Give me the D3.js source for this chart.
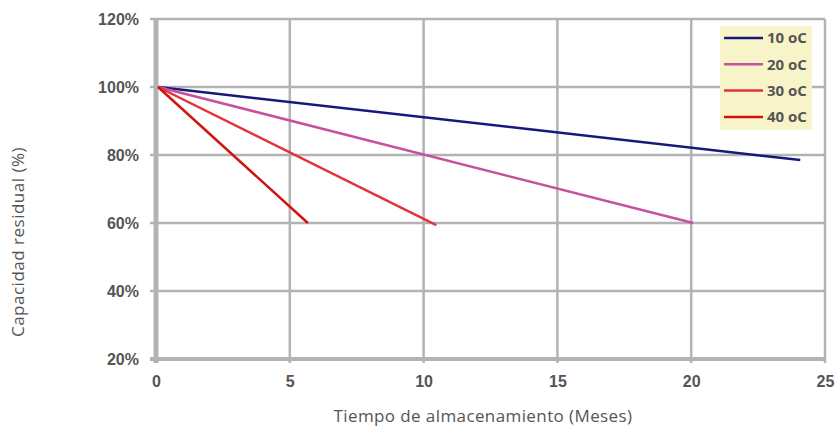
<!DOCTYPE html>
<html>
<head>
<meta charset="utf-8">
<script src="https://cdn.jsdelivr.net/npm/d3@7"></script>
<style>
  body { margin: 0; background: #fff; }
  svg { display: block; font-family: "Open Sans", sans-serif; }
  .tick text { font-weight: 700; fill: #555; font-size: 16px; }
  .axis-title { fill: #555; font-size: 17px; letter-spacing: 0.4px; }
  .legend-label { font-weight: 700; fill: #555; font-size: 15px; }
</style>
</head>
<body>
<div id="chart"></div>
<script>
// Data
const xTicks = [0, 5, 10, 15, 20, 25];
const yTicks = [20, 40, 60, 80, 100, 120];
const seriesNames = ["10 oC", "20 oC", "30 oC", "40 oC"];
const seriesColors = ["#17197a", "#c9509e", "#e2353b", "#d0150f"];
const line10 = [[0, 100], [24, 78.5]];
const line20 = [[0, 100], [20, 60]];
const line30 = [[0, 100], [10.4, 59.4]];
const line40 = [[0, 100], [5.6, 60]];
const seriesValues = [line10, line20, line30, line40];

// Set up dimensions
let width = 837;
let height = 427;
let margin = { top: 19, right: 12, bottom: 68, left: 156 };

let xScale = d3
  .scaleLinear()
  .domain([0, 25])
  .range([margin.left, width - margin.right]);

let yScale = d3
  .scaleLinear()
  .domain([20, 120])
  .range([height - margin.bottom, margin.top]);

let gridColor = "#b3b3b3";

const svg = d3
  .select("#chart")
  .append("svg")
  .attr("width", width)
  .attr("height", height);

// Draw grid
svg
  .append("g")
  .selectAll("line")
  .data(xTicks.slice(1))
  .join("line")
  .attr("x1", (d) => xScale(d))
  .attr("x2", (d) => xScale(d))
  .attr("y1", yScale(120))
  .attr("y2", yScale(20) + 4)
  .attr("stroke", gridColor)
  .attr("stroke-width", 2.5);

svg
  .append("g")
  .selectAll("line")
  .data(yTicks.slice(1))
  .join("line")
  .attr("x1", xScale(0) - 6)
  .attr("x2", xScale(25))
  .attr("y1", (d) => yScale(d))
  .attr("y2", (d) => yScale(d))
  .attr("stroke", gridColor)
  .attr("stroke-width", 2.5);

// Draw bottom axis line
svg
  .append("line")
  .attr("x1", xScale(0) - 6)
  .attr("x2", xScale(25) + 1)
  .attr("y1", yScale(20))
  .attr("y2", yScale(20))
  .attr("stroke", gridColor)
  .attr("stroke-width", 4);

// Draw left axis bar
svg
  .append("line")
  .attr("x1", xScale(0))
  .attr("x2", xScale(0))
  .attr("y1", yScale(120) - 1)
  .attr("y2", yScale(20) + 4)
  .attr("stroke", gridColor)
  .attr("stroke-width", 5);

// Draw x axis labels
const xAxisG = svg
  .append("g")
  .attr("transform", `translate(0,${yScale(20)})`)
  .call(d3.axisBottom(xScale).tickValues(xTicks).tickSize(0).tickPadding(17));
xAxisG.select(".domain").remove();
xAxisG.selectAll("text").style("font-family", "inherit");

// Draw y axis labels
const yAxisG = svg
  .append("g")
  .attr("transform", `translate(${xScale(0)},0)`)
  .call(
    d3
      .axisLeft(yScale)
      .tickValues(yTicks)
      .tickSize(0)
      .tickPadding(17)
      .tickFormat((d) => `${d}%`)
  );
yAxisG.select(".domain").remove();
yAxisG.selectAll("text").style("font-family", "inherit");

// Axis titles
svg
  .append("text")
  .attr("class", "axis-title")
  .attr("x", 483)
  .attr("y", 422)
  .attr("text-anchor", "middle")
  .text("Tiempo de almacenamiento (Meses)");

svg
  .append("text")
  .attr("class", "axis-title")
  .attr("transform", "translate(24,242) rotate(-90)")
  .attr("text-anchor", "middle")
  .style("letter-spacing", "0.5px")
  .text("Capacidad residual (%)");

// Draw lines
let line = d3
  .line()
  .x((d) => xScale(d[0]) + 2)
  .y((d) => yScale(d[1]));

svg
  .append("g")
  .selectAll("path")
  .data(seriesValues)
  .join("path")
  .attr("fill", "none")
  .attr("stroke", (d, i) => seriesColors[i])
  .attr("stroke-width", 2.5)
  .attr("d", (d) => line(d));

// Draw legend
const legend = svg.append("g").attr("transform", "translate(720,26)");
legend
  .append("rect")
  .attr("width", 92)
  .attr("height", 104)
  .attr("fill", "#f8f4c9");

const legendItem = legend
  .selectAll("g")
  .data(seriesNames)
  .join("g")
  .attr("transform", (d, i) => `translate(0,${12 + i * 26.3})`);

legendItem
  .append("line")
  .attr("x1", 4)
  .attr("x2", 43)
  .attr("stroke", (d, i) => seriesColors[i])
  .attr("stroke-width", 2.5);

legendItem
  .append("text")
  .attr("class", "legend-label")
  .attr("x", 47)
  .attr("dy", "0.35em")
  .text((d) => d);
</script>
</body>
</html>
